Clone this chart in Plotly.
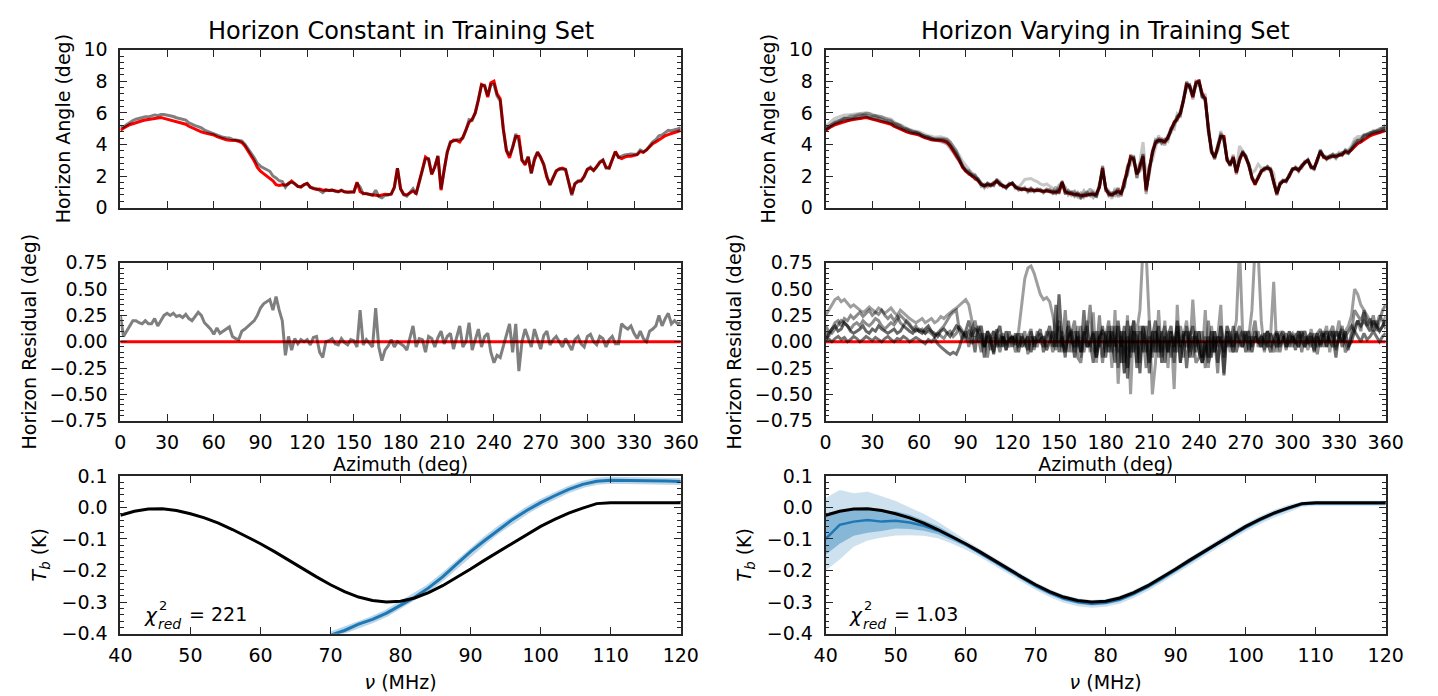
import plotly.graph_objects as go

# ---------------- data ----------------
az = list(range(0, 361, 2))

horizon_true = [
    4.9, 5.05, 5.15, 5.25, 5.32, 5.4, 5.47, 5.5, 5.55, 5.58,
    5.62, 5.65, 5.68, 5.7, 5.65, 5.6, 5.56, 5.5, 5.45, 5.4,
    5.35, 5.28, 5.15, 5.06, 4.95, 4.85, 4.8, 4.73, 4.68, 4.65,
    4.6, 4.5, 4.42, 4.35, 4.3, 4.27, 4.27, 4.25, 4.2, 4.12,
    3.9, 3.6, 3.3, 2.95, 2.55, 2.3, 2.15, 2.0, 1.9, 1.7,
    1.45, 1.4, 1.45, 1.42, 1.5, 1.68, 1.5, 1.35, 1.3, 1.45,
    1.52, 1.3, 1.2, 1.15, 1.18, 1.1, 1.12, 1.08, 1.1, 1.05,
    1.02, 1.08, 1.0, 0.98, 0.97, 0.98, 1.6, 1.0, 0.9, 0.88,
    0.85, 0.82, 0.78, 0.75, 0.8, 0.85, 0.83, 0.85, 1.3, 2.5,
    1.2, 0.85, 0.8, 0.95, 1.05, 0.9, 1.6, 2.4, 3.2, 3.05,
    2.1, 2.6, 3.25, 1.1, 2.4, 3.5, 4.1, 4.28, 4.25, 4.15,
    4.45, 4.9, 5.4, 5.6, 6.0, 6.8, 7.8, 7.7, 7.0, 7.9,
    8.0, 7.2, 6.9, 5.0, 3.6, 3.15, 3.9, 4.5, 4.5, 3.0,
    2.7, 3.2, 2.2, 3.0, 3.5, 3.2, 2.7, 1.9, 1.45, 1.9,
    2.3, 2.45, 2.5, 2.4, 1.6, 0.85, 1.5, 1.65, 1.7, 2.0,
    2.4, 2.5, 2.35, 2.6, 2.85, 3.0, 2.55, 2.5, 3.0, 3.55,
    3.2, 3.1, 3.2, 3.25, 3.25, 3.3, 3.35, 3.55, 3.5, 3.65,
    3.85, 4.05, 4.15, 4.3, 4.45, 4.55, 4.62, 4.7, 4.75, 4.82,
    4.88,
]

resid_const = [
    0.25, 0.05, 0.1, 0.15, 0.2, 0.2, 0.18, 0.17, 0.2, 0.17,
    0.17, 0.22, 0.15, 0.2, 0.25, 0.27, 0.25, 0.27, 0.24, 0.25,
    0.23, 0.26, 0.22, 0.2, 0.24, 0.28, 0.25, 0.18, 0.15, 0.12,
    0.07, 0.13, 0.08, 0.1, 0.12, 0.14, 0.05, 0.03, 0.02, 0.1,
    0.12, 0.15, 0.17, 0.2, 0.25, 0.32, 0.36, 0.38, 0.4, 0.3,
    0.43, 0.3, 0.2, -0.13, 0.05, -0.08, 0.03, -0.02, 0.02, 0.0,
    0.02, -0.03, 0.04, 0.05, -0.1, -0.15, 0.0, 0.01, 0.03, -0.02,
    -0.03, 0.03, -0.01, -0.03, 0.02, 0.01, -0.05, 0.3, -0.03, 0.02,
    -0.02, -0.05, 0.32, -0.05, -0.18, -0.08, -0.04, 0.02, -0.05, 0.0,
    -0.02, -0.04, -0.08, 0.03, 0.15, -0.05, 0.03, 0.02, -0.1, 0.05,
    0.03, -0.05, 0.04, 0.1, -0.02, 0.05, 0.08, -0.07, 0.05, 0.15,
    -0.05, 0.0, 0.18, -0.08, 0.02, 0.12, -0.05, 0.05, 0.08, -0.1,
    -0.2, -0.13, -0.15, -0.05, 0.05, 0.17, -0.1, 0.17, -0.28, 0.0,
    0.12, 0.03, -0.05, 0.12, 0.02, -0.07, 0.06, 0.1, -0.03, 0.02,
    0.05, 0.0, -0.05, 0.03, -0.02, -0.08, 0.02, 0.05, -0.02, -0.05,
    0.05, 0.07, 0.0, -0.03, 0.05, 0.03, -0.05, 0.02, 0.05, -0.02,
    -0.02, 0.17, 0.14, 0.12, 0.15, 0.08, 0.03, 0.1, 0.03, 0.0,
    0.1, 0.12, 0.15, 0.25, 0.15, 0.22, 0.27, 0.17, 0.2, 0.17,
    0.18,
]

resid_vary_1 = [
    0.25, 0.3, 0.35, 0.4, 0.42, 0.38, 0.4, 0.36, 0.33, 0.35,
    0.32, 0.3, 0.28, 0.3, 0.33, 0.3, 0.28, 0.32, 0.3, 0.27,
    0.3, 0.32, 0.28, 0.25, 0.3, 0.27, 0.24, 0.22, 0.2, 0.18,
    0.2, 0.22, 0.18, 0.2, 0.22, 0.18, 0.2, 0.24, 0.22, 0.25,
    0.28, 0.3, 0.32, 0.35, 0.38, 0.4, 0.35, 0.2, 0.05, 0.08,
    0.02, -0.05, 0.06, 0.0, 0.04, -0.03, 0.05, 0.02, -0.02, 0.03,
    0.05, 0.0, 0.1, 0.35, 0.6, 0.7, 0.72, 0.65, 0.55, 0.45,
    0.4, 0.42, 0.38, 0.25, 0.05, -0.05, 0.1, -0.08, 0.05, 0.12,
    -0.1, 0.15, -0.15, 0.05, 0.2, -0.1, 0.28, -0.2, 0.1, 0.05,
    -0.1, 0.15, -0.25, 0.3, -0.4, 0.1, -0.3, 0.25, -0.5, 0.2,
    0.1, 0.3, 0.9, 0.85, 0.2, -0.5, -0.2, 0.3, -0.15, 0.2,
    -0.25, 0.1, -0.45, 0.35, -0.2, 0.05, 0.2, -0.1, 0.4, -0.05,
    0.1, -0.15, 0.3, -0.25, 0.15, -0.1, 0.05, 0.35, -0.3, 0.1,
    -0.1, 0.05, 0.2, 0.9, 0.1, 0.0, 0.05, 0.3, 0.9, 0.85,
    0.2, -0.1, 0.1, 0.05, 0.57, -0.1, 0.1, 0.05, -0.05, 0.1,
    0.0, 0.08, -0.05, 0.1, 0.02, -0.08, 0.12, 0.0, -0.05, 0.1,
    0.05, 0.15, -0.1, 0.1, 0.05, 0.2, 0.0, 0.1, 0.15, 0.25,
    0.5, 0.45, 0.35, 0.3, 0.25, 0.2, 0.15, 0.2, 0.1, 0.15,
    0.25,
]

resid_vary_2 = [
    0.1, 0.05, 0.12, 0.18, 0.2, 0.15, 0.22, 0.2, 0.25, 0.22,
    0.25, 0.28, 0.24, 0.27, 0.3, 0.25, 0.28, 0.26, 0.3, 0.25,
    0.22, 0.25, 0.2, 0.24, 0.18, 0.15, 0.2, 0.17, 0.12, 0.15,
    0.1, 0.12, 0.08, 0.12, 0.1, 0.05, 0.08, 0.12, 0.15, 0.2,
    0.25, 0.28, 0.3, 0.1, 0.02, 0.1, -0.05, 0.12, 0.2, 0.05,
    -0.1, 0.08, -0.15, 0.05, 0.1, -0.05, 0.0, 0.08, -0.08, 0.02,
    0.05, -0.1, 0.0, 0.08, -0.05, 0.05, 0.12, -0.08, 0.1, 0.0,
    -0.05, 0.1, 0.05, -0.1, 0.05, 0.2, -0.05, 0.3, -0.1, 0.08,
    0.2, -0.15, -0.2, 0.05, 0.15, -0.05, 0.1, -0.1, 0.25, -0.15,
    0.05, 0.2, -0.1, 0.15, -0.25, 0.05, -0.3, 0.2, -0.1, 0.1,
    -0.2, 0.15, 0.05, -0.25, 0.2, -0.1, 0.1, -0.15, 0.05, 0.15,
    -0.1, 0.05, -0.2, 0.1, 0.0, -0.15, 0.15, -0.05, 0.05, -0.2,
    -0.15, 0.1, -0.25, 0.2, -0.1, 0.05, -0.3, 0.15, 0.0, -0.05,
    0.1, -0.1, 0.05, 0.15, -0.05, 0.1, -0.1, 0.05, 0.2, -0.05,
    0.05, -0.08, 0.1, 0.0, -0.1, 0.08, -0.02, 0.05, -0.08, 0.1,
    -0.05, 0.05, 0.1, -0.1, 0.05, 0.0, -0.05, 0.08, -0.12, 0.05,
    0.1, -0.05, 0.08, 0.15, -0.05, 0.05, 0.12, 0.0, -0.08, 0.1,
    0.3, 0.25, 0.2, 0.28, 0.15, 0.22, 0.1, 0.15, 0.25, 0.2,
    0.12,
]

resid_vary_3 = [
    0.05, 0.02, 0.0, 0.03, 0.05, 0.02, 0.04, 0.0, 0.02, 0.05,
    0.03, 0.0, 0.02, 0.05, 0.03, 0.01, 0.04, 0.02, 0.0, 0.03,
    0.05, 0.02, 0.0, 0.03, 0.02, 0.05, 0.03, 0.0, 0.02, 0.04,
    0.02, 0.0, -0.02, 0.02, 0.0, 0.03, -0.02, -0.05, -0.08, -0.1,
    -0.12, -0.1, -0.12, -0.05, 0.05, 0.1, 0.2, 0.08, -0.1, 0.15,
    0.05, -0.15, 0.1, 0.0, -0.1, 0.12, -0.05, 0.05, -0.08, 0.1,
    -0.05, 0.08, -0.1, 0.05, 0.0, -0.08, 0.1, -0.05, 0.05, 0.12,
    -0.1, 0.05, 0.15, -0.05, 0.35, -0.1, 0.05, -0.15, 0.2, 0.0,
    -0.05, 0.1, -0.1, 0.3, -0.05, 0.0, -0.2, 0.1, -0.05, 0.15,
    -0.15, 0.1, 0.0, -0.2, 0.2, -0.05, 0.15, -0.35, 0.05, 0.2,
    -0.25, 0.1, -0.1, 0.15, -0.3, 0.05, 0.2, -0.1, 0.1, -0.2,
    0.05, 0.15, -0.1, 0.2, -0.05, 0.1, -0.25, 0.05, 0.15, -0.1,
    0.1, -0.2, -0.1, 0.05, -0.15, 0.1, -0.2, 0.05, -0.32, 0.1,
    -0.05, 0.15, -0.1, 0.05, 0.1, -0.1, 0.05, -0.05, 0.1, 0.0,
    -0.05, 0.08, 0.0, -0.1, 0.05, 0.1, -0.05, 0.03, 0.08, -0.05,
    0.05, -0.08, 0.1, 0.0, -0.05, 0.05, 0.08, -0.1, 0.05, -0.03,
    0.08, -0.05, 0.1, 0.05, -0.15, 0.1, -0.05, 0.05, 0.1, 0.15,
    0.1, 0.05, 0.0, 0.08, 0.02, 0.05, 0.1, 0.05, 0.0, 0.05,
    0.08,
]

resid_vary_4 = [
    0.15, 0.1, 0.08, 0.12, 0.15, 0.2, 0.18, 0.15, 0.12, 0.16,
    0.18, 0.15, 0.2, 0.17, 0.15, 0.18, 0.22, 0.2, 0.15, 0.12,
    0.15, 0.18, 0.16, 0.2, 0.25, 0.22, 0.18, 0.15, 0.12, 0.1,
    0.12, 0.1, 0.08, 0.1, 0.07, 0.05, 0.08, 0.05, 0.03, 0.08,
    0.1, 0.05, 0.08, 0.15, 0.1, 0.02, 0.05, -0.02, 0.05, 0.0,
    0.08, -0.05, 0.05, -0.08, 0.1, 0.03, -0.1, 0.05, 0.0, -0.05,
    0.03, 0.05, -0.05, 0.0, 0.1, -0.12, 0.05, 0.0, -0.05, 0.08,
    0.02, -0.05, 0.1, 0.0, -0.08, 0.15, -0.1, 0.05, 0.15, -0.1,
    0.1, -0.05, 0.15, -0.1, 0.05, 0.35, -0.05, -0.15, 0.05, -0.2,
    0.1, -0.05, 0.15, 0.0, -0.1, 0.1, -0.2, 0.05, -0.15, 0.1,
    0.05, -0.2, 0.15, -0.1, 0.05, -0.15, 0.1, 0.0, -0.1, 0.05,
    0.1, -0.15, 0.05, -0.1, 0.15, 0.0, -0.05, 0.1, -0.15, 0.05,
    -0.05, -0.15, 0.05, -0.2, -0.1, 0.1, -0.05, 0.15, -0.15, 0.05,
    0.0, -0.1, 0.08, -0.05, 0.05, 0.1, -0.08, 0.05, 0.0, 0.1,
    -0.05, 0.05, 0.1, -0.05, 0.0, 0.08, -0.1, 0.05, 0.0, 0.05,
    0.08, -0.02, 0.05, 0.1, -0.05, 0.05, 0.0, -0.08, 0.08, 0.12,
    -0.05, 0.05, 0.0, 0.1, -0.08, 0.05, 0.15, -0.1, -0.05, 0.05,
    0.15, 0.2, 0.1, 0.3, 0.2, 0.15, 0.25, 0.1, 0.2, 0.3,
    0.35,
]

resid_vary_5 = [
    0.0, 0.08, 0.12, 0.15, 0.1, 0.12, 0.18, 0.15, 0.1, 0.08,
    0.1, 0.12, 0.15, 0.1, 0.08, 0.12, 0.1, 0.15, 0.12, 0.1,
    0.08, 0.1, 0.12, 0.08, 0.1, 0.15, 0.12, 0.1, 0.08, 0.12,
    0.1, 0.08, 0.12, 0.15, 0.1, 0.08, 0.05, 0.1, 0.12, 0.08,
    0.05, 0.1, 0.15, 0.12, 0.08, 0.05, 0.1, 0.05, 0.12, 0.1,
    0.15, -0.05, 0.1, 0.05, -0.12, 0.08, 0.15, -0.05, 0.1, 0.0,
    0.05, -0.03, 0.08, -0.05, 0.0, 0.05, -0.1, 0.05, 0.0, 0.02,
    0.05, -0.08, 0.0, 0.1, -0.05, 0.45, 0.0, -0.1, 0.05, 0.1,
    -0.15, 0.05, -0.1, 0.1, -0.05, 0.0, 0.08, -0.15, 0.05, 0.1,
    0.05, -0.1, 0.1, -0.05, 0.15, -0.2, 0.1, -0.25, 0.15, -0.1,
    0.1, -0.3, 0.15, 0.0, -0.2, 0.1, -0.1, 0.15, -0.2, 0.05,
    -0.1, 0.1, -0.05, 0.15, -0.2, 0.05, 0.1, -0.15, 0.0, 0.1,
    -0.1, -0.2, 0.0, -0.15, 0.1, -0.1, 0.05, 0.0, -0.1, 0.15,
    0.05, -0.05, 0.1, 0.0, -0.05, 0.05, 0.1, -0.1, 0.05, 0.0,
    0.05, 0.0, -0.05, 0.08, 0.0, -0.05, 0.05, 0.1, -0.05, 0.0,
    0.05, 0.0, -0.05, 0.05, 0.1, -0.02, 0.05, 0.0, 0.08, -0.05,
    0.05, 0.1, 0.0, -0.05, 0.1, 0.05, 0.0, 0.1, -0.05, 0.0,
    0.1, 0.2, 0.15, 0.2, 0.15, 0.1, 0.2, 0.15, 0.1, 0.15,
    0.2,
]

resid_vary = [resid_vary_1, resid_vary_2, resid_vary_3, resid_vary_4, resid_vary_5]
resid_alpha = [0.38, 0.45, 0.55, 0.45, 0.6]
pred_alpha = [0.22, 0.3, 0.3, 0.3, 0.3]

nu = list(range(40, 121, 2))
signal_true = [
    -0.025, -0.012, -0.005, -0.004, -0.01, -0.02, -0.033, -0.05, -0.07, -0.092,
    -0.115, -0.14, -0.167, -0.193, -0.22, -0.245, -0.267, -0.284, -0.295, -0.3,
    -0.297, -0.287, -0.27, -0.248, -0.222, -0.195, -0.167, -0.14, -0.112, -0.085,
    -0.06, -0.038, -0.018, -0.002, 0.012, 0.015, 0.015, 0.015, 0.015, 0.015,
    0.015,
]

nu_const = list(range(70, 121, 2))
pred_const = [
    -0.405, -0.39, -0.37, -0.355, -0.335, -0.31, -0.285, -0.255, -0.22, -0.18,
    -0.14, -0.105, -0.07, -0.038, -0.01, 0.015, 0.037, 0.057, 0.073, 0.083,
    0.086, 0.086, 0.085, 0.085, 0.084, 0.082,
]

pred_vary_mean = [
    -0.1, -0.055, -0.045, -0.04, -0.045, -0.042, -0.048, -0.058, -0.073, -0.094,
    -0.118, -0.143, -0.17, -0.197, -0.224, -0.249, -0.271, -0.289, -0.3, -0.305,
    -0.302, -0.292, -0.274, -0.252, -0.226, -0.199, -0.171, -0.143, -0.115, -0.088,
    -0.063, -0.04, -0.02, -0.004, 0.01, 0.013, 0.013, 0.012, 0.012, 0.013,
    0.013,
]
# offsets of the 2-sigma / 1-sigma band edges from the mean
band2_up = [0.13, 0.11, 0.09, 0.09, 0.08, 0.062, 0.048, 0.038, 0.028, 0.019,
            0.015, 0.012, 0.012, 0.012, 0.012, 0.012, 0.012, 0.012, 0.012, 0.012,
            0.012, 0.012, 0.012, 0.012, 0.012, 0.012, 0.012, 0.012, 0.012, 0.012,
            0.012, 0.012, 0.012, 0.012, 0.008, 0.008, 0.008, 0.008, 0.008, 0.008, 0.008]
band2_dn = [0.1, 0.11, 0.08, 0.065, 0.05, 0.047, 0.04, 0.032, 0.025, 0.02,
            0.016, 0.013, 0.013, 0.013, 0.013, 0.013, 0.013, 0.013, 0.013, 0.013,
            0.013, 0.013, 0.013, 0.013, 0.013, 0.013, 0.013, 0.013, 0.013, 0.013,
            0.013, 0.013, 0.013, 0.013, 0.008, 0.008, 0.008, 0.008, 0.008, 0.008, 0.008]
band1_up = [0.08, 0.045, 0.04, 0.035, 0.035, 0.03, 0.025, 0.018, 0.014, 0.01,
            0.006, 0.006, 0.006, 0.006, 0.006, 0.006, 0.006, 0.006, 0.006, 0.006,
            0.006, 0.006, 0.006, 0.006, 0.006, 0.006, 0.006, 0.006, 0.006, 0.006,
            0.006, 0.006, 0.006, 0.006, 0.004, 0.004, 0.004, 0.004, 0.004, 0.004, 0.004]
band1_dn = [0.05, 0.06, 0.045, 0.04, 0.03, 0.025, 0.02, 0.016, 0.012, 0.01,
            0.006, 0.006, 0.006, 0.006, 0.006, 0.006, 0.006, 0.006, 0.006, 0.006,
            0.006, 0.006, 0.006, 0.006, 0.006, 0.006, 0.006, 0.006, 0.006, 0.006,
            0.006, 0.006, 0.006, 0.006, 0.004, 0.004, 0.004, 0.004, 0.004, 0.004, 0.004]

titles = ["Horizon Constant in Training Set", "Horizon Varying in Training Set"]
chi2_labels = ["221", "1.03"]

# ---------------- figure ----------------
W, H = 1438, 696
RED = "#ff0000"
BLUE = "#1f77b4"
FONT = "DejaVu Sans"

fig = go.Figure()

def add(tr, k):
    tr.update(xaxis="x" if k == 1 else f"x{k}", yaxis="y" if k == 1 else f"y{k}",
              showlegend=False, hoverinfo="skip")
    fig.add_trace(tr)

# top-left
add(go.Scatter(x=az, y=horizon_true, mode="lines", line=dict(color=RED, width=3)), 1)
add(go.Scatter(x=az, y=[t + r for t, r in zip(horizon_true, resid_const)], mode="lines",
               line=dict(color="rgba(0,0,0,0.5)", width=3)), 1)
# top-right
add(go.Scatter(x=az, y=horizon_true, mode="lines", line=dict(color=RED, width=3)), 2)
for res, a in zip(resid_vary, pred_alpha):
    add(go.Scatter(x=az, y=[t + r for t, r in zip(horizon_true, res)], mode="lines",
                   line=dict(color=f"rgba(0,0,0,{a})", width=3)), 2)
# middle-left
add(go.Scatter(x=az, y=resid_const, mode="lines", line=dict(color="rgba(0,0,0,0.5)", width=3)), 3)
# middle-right
for res, a in zip(resid_vary, resid_alpha):
    add(go.Scatter(x=az, y=res, mode="lines", line=dict(color=f"rgba(0,0,0,{a})", width=3)), 4)
# bottom-left
add(go.Scatter(x=nu_const, y=pred_const, mode="lines",
               line=dict(color="rgba(31,119,180,0.3)", width=7)), 5)
add(go.Scatter(x=nu_const, y=pred_const, mode="lines", line=dict(color=BLUE, width=3)), 5)
add(go.Scatter(x=nu, y=signal_true, mode="lines", line=dict(color="black", width=3)), 5)
# bottom-right
add(go.Scatter(x=nu, y=[m - d for m, d in zip(pred_vary_mean, band2_dn)], mode="lines",
               line=dict(width=0, color="rgba(0,0,0,0)")), 6)
add(go.Scatter(x=nu, y=[m + d for m, d in zip(pred_vary_mean, band2_up)], mode="lines",
               line=dict(width=0, color="rgba(0,0,0,0)"), fill="tonexty",
               fillcolor="rgba(31,119,180,0.22)"), 6)
add(go.Scatter(x=nu, y=[m - d for m, d in zip(pred_vary_mean, band1_dn)], mode="lines",
               line=dict(width=0, color="rgba(0,0,0,0)")), 6)
add(go.Scatter(x=nu, y=[m + d for m, d in zip(pred_vary_mean, band1_up)], mode="lines",
               line=dict(width=0, color="rgba(0,0,0,0)"), fill="tonexty",
               fillcolor="rgba(31,119,180,0.4)"), 6)
add(go.Scatter(x=nu, y=pred_vary_mean, mode="lines", line=dict(color=BLUE, width=2.5)), 6)
add(go.Scatter(x=nu, y=signal_true, mode="lines", line=dict(color="black", width=3)), 6)

# ---------------- axes ----------------
xL = [110.7 / W, 683 / W]
xR = [831 / W, 1403 / W]
yTop = [1 - 203 / H, 1 - 40 / H]
yMid = [1 - 423 / H, 1 - 260 / H]
yBot = [1 - 643 / H, 1 - 480 / H]

TICKC = "#262626"
def base(**kw):
    d = dict(showline=True, linecolor=TICKC, linewidth=1.8, mirror="allticks",
             ticks="inside", ticklen=7, tickwidth=1.3, tickcolor=TICKC,
             showgrid=False, zeroline=False, ticklabelstandoff=7,
             tickfont=dict(family=FONT, size=19, color="black"))
    d.update(kw)
    return d

def minor(dt):
    return dict(ticks="inside", ticklen=3.5, tickwidth=1.0, tickcolor=TICKC, dtick=dt, showgrid=False)

TF = dict(family=FONT, size=19, color="black")
layout = {}
for k, (xd, yd) in enumerate([(xL, yTop), (xR, yTop), (xL, yMid), (xR, yMid), (xL, yBot), (xR, yBot)], start=1):
    xn = "xaxis" if k == 1 else f"xaxis{k}"
    yn = "yaxis" if k == 1 else f"yaxis{k}"
    xa = "x" if k == 1 else f"x{k}"
    ya = "y" if k == 1 else f"y{k}"
    if k <= 4:
        xax = base(domain=xd, anchor=ya, range=[0, 360], tick0=0, dtick=30,
                   showticklabels=(k > 2), ticklabelstandoff=4)
        if k > 2:
            xax["title"] = dict(text="Azimuth (deg)", font=TF, standoff=4)
    else:
        xax = base(domain=xd, anchor=ya, range=[40, 120], tick0=40, dtick=10, ticklabelstandoff=4)
        xax["title"] = dict(text="<i>ν</i> (MHz)", font=TF, standoff=10)
    if k <= 2:
        yax = base(domain=yd, anchor=xa, range=[0, 10], tick0=0, dtick=2, minor=minor(0.4))
        yax["title"] = dict(text="Horizon Angle (deg)", font=TF, standoff=8)
    elif k <= 4:
        yax = base(domain=yd, anchor=xa, range=[-0.7501, 0.7501], tick0=0, dtick=0.25,
                   tickformat=".2f", minor=minor(0.05))
        yax["title"] = dict(text="Horizon Residual (deg)", font=TF, standoff=8)
    else:
        yax = base(domain=yd, anchor=xa, range=[-0.4001, 0.1001], tick0=0, dtick=0.1,
                   tickformat=".1f", minor=minor(0.02))
        yax["title"] = dict(text="<i>T</i><sub><i>b</i></sub> (K)", font=TF, standoff=10)
    layout[xn] = xax
    layout[yn] = yax

shapes = []
for xr_, yr_ in [("x3", "y3"), ("x4", "y4")]:
    shapes.append(dict(type="line", xref=f"{xr_} domain", yref=yr_, x0=0, x1=1, y0=0, y1=0,
                       line=dict(color=RED, width=3), layer="below"))

annotations = []
for t, xd in zip(titles, [xL, xR]):
    annotations.append(dict(text=t, xref="paper", yref="paper", x=(xd[0] + xd[1]) / 2,
                            y=1 - 21 / H, showarrow=False, xanchor="center", yanchor="middle",
                            font=dict(family=FONT, size=24, color="black")))
for lab, xd in zip(chi2_labels, [xL, xR]):
    x0 = xd[0] + 22 / W
    annotations += [
        dict(text="<i>χ</i>", xref="paper", yref="paper", x=x0, y=1 - 624 / H,
             showarrow=False, xanchor="left", yanchor="middle",
             font=dict(family=FONT, size=20, color="black")),
        dict(text="2", xref="paper", yref="paper", x=x0 + 15 / W, y=1 - 614 / H,
             showarrow=False, xanchor="left", yanchor="middle",
             font=dict(family=FONT, size=13, color="black")),
        dict(text="<i>red</i>", xref="paper", yref="paper", x=x0 + 14 / W, y=1 - 633 / H,
             showarrow=False, xanchor="left", yanchor="middle",
             font=dict(family=FONT, size=14, color="black")),
        dict(text="= " + lab, xref="paper", yref="paper", x=x0 + 46 / W, y=1 - 623 / H,
             showarrow=False, xanchor="left", yanchor="middle",
             font=dict(family=FONT, size=19, color="black")),
    ]

fig.update_layout(width=W, height=H, margin=dict(l=0, r=0, t=0, b=0),
                  paper_bgcolor="white", plot_bgcolor="white",
                  font=dict(family=FONT, color="black"),
                  shapes=shapes, annotations=annotations, **layout)

fig.write_html("out.html")
